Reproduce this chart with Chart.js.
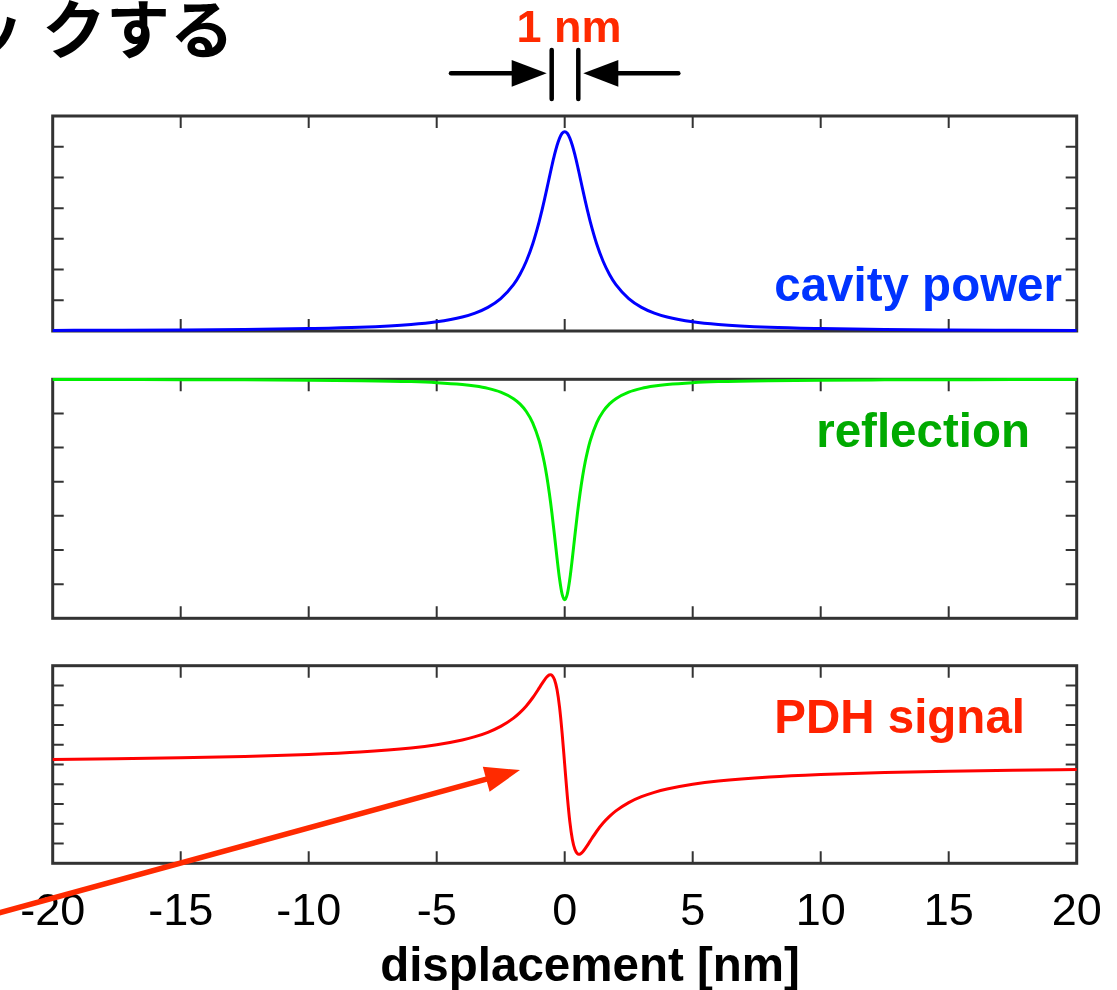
<!DOCTYPE html>
<html><head><meta charset="utf-8">
<script src="https://cdn.jsdelivr.net/npm/chart.js@4.4.1/dist/chart.umd.min.js"></script>
<style>
html,body{margin:0;padding:0;background:#fff;}
#page{position:relative;width:1117px;height:990px;overflow:hidden;background:#fff;}
#page canvas{position:absolute;left:0;}
#overlay{position:absolute;left:0;top:0;pointer-events:none;}
</style></head><body>
<div id="page">
<canvas id="cavityChart" width="1117" height="250" style="top:100px"></canvas>
<canvas id="reflectionChart" width="1117" height="280" style="top:360px"></canvas>
<canvas id="pdhChart" width="1117" height="340" style="top:650px"></canvas>
<svg id="overlay" width="1117" height="990" viewBox="0 0 1117 990">
  <text y="53" font-family="Noto Sans CJK JP" font-weight="bold" font-size="64" fill="#000"><tspan x="-40">ッ</tspan><tspan x="42">クする</tspan></text>
  <text x="569" y="42" text-anchor="middle" font-family="Liberation Sans, Arial, sans-serif" font-weight="bold" font-size="45" fill="#ff2a00">1 nm</text>
  <g stroke="#000" stroke-width="4.5" stroke-linecap="round">
    <line x1="451" y1="73.3" x2="515" y2="73.3"/>
    <line x1="551.7" y1="50" x2="551.7" y2="99"/>
    <line x1="578.3" y1="50" x2="578.3" y2="99"/>
    <line x1="615" y1="73.3" x2="678.3" y2="73.3"/>
  </g>
  <polygon points="511.7,60 546.7,73.3 511.7,86.7" fill="#000"/>
  <polygon points="618.3,60 583.3,73.3 618.3,86.7" fill="#000"/>
  <text x="1062" y="301" text-anchor="end" font-family="Liberation Sans, Arial, sans-serif" font-weight="bold" font-size="47.5" fill="#0033ff">cavity power</text>
  <text x="1030" y="447" text-anchor="end" font-family="Liberation Sans, Arial, sans-serif" font-weight="bold" font-size="47.5" fill="#00aa00">reflection</text>
  <text x="1025" y="733" text-anchor="end" font-family="Liberation Sans, Arial, sans-serif" font-weight="bold" font-size="47.5" fill="#ff2200">PDH signal</text>
  <line x1="-2" y1="913.2" x2="490" y2="778.2" stroke="#ff2a00" stroke-width="5.5"/>
  <polygon points="482.8,766.8 520,770 489.6,791.8" fill="#ff2a00"/>
  <text x="590" y="981" text-anchor="middle" font-family="Liberation Sans, Arial, sans-serif" font-weight="bold" font-size="47.5" fill="#000">displacement [nm]</text>
</svg>
</div>
<script>
// ---- data ----
const displacement = [-20,-17.5,-15,-12.5,-10,-8,-6,-5,-4,-3.5,-3,-2.5,-2,-1.75,-1.5,-1.25,-1,-0.9,-0.8,-0.7,-0.6,-0.55,-0.5,-0.4,-0.3,-0.2,-0.1,0,0.1,0.2,0.3,0.4,0.5,0.55,0.6,0.7,0.8,0.9,1,1.25,1.5,1.75,2,2.5,3,3.5,4,5,6,8,10,12.5,15,17.5,20];
const cavityPower = [0.020,0.026,0.035,0.050,0.078,0.120,0.211,0.300,0.456,0.583,0.769,1.053,1.507,1.838,2.270,2.832,3.553,3.888,4.245,4.619,5.002,5.192,5.379,5.732,6.041,6.282,6.437,6.490,6.437,6.282,6.041,5.732,5.379,5.192,5.002,4.619,4.245,3.888,3.553,2.832,2.270,1.838,1.507,1.053,0.769,0.583,0.456,0.300,0.211,0.120,0.078,0.050,0.035,0.026,0.020];
const reflection = [6.994,6.992,6.989,6.984,6.975,6.961,6.932,6.902,6.848,6.803,6.735,6.625,6.433,6.280,6.057,5.725,5.206,4.921,4.576,4.160,3.664,3.385,3.086,2.439,1.766,1.149,0.704,0.540,0.704,1.149,1.766,2.439,3.086,3.385,3.664,4.160,4.576,4.921,5.206,5.725,6.057,6.280,6.433,6.625,6.735,6.803,6.848,6.902,6.932,6.961,6.975,6.984,6.989,6.992,6.994];
const pdhSignal = [5.253,5.289,5.337,5.404,5.504,5.629,5.836,6.000,6.241,6.410,6.631,6.928,7.348,7.626,7.965,8.378,8.863,9.066,9.261,9.428,9.531,9.544,9.518,9.306,8.795,7.891,6.581,5.000,3.419,2.109,1.205,0.694,0.482,0.456,0.469,0.572,0.739,0.934,1.137,1.622,2.035,2.374,2.652,3.072,3.369,3.590,3.759,4.000,4.164,4.371,4.496,4.596,4.663,4.711,4.747];
const xTickValues = [-20,-15,-10,-5,0,5,10,15,20];
const xTickLabels = ['-20','-15','-10','-5','0','5','10','15','20'];
const cavityYTicks = [0,1,2,3,4,5,6,7];
const reflectionYTicks = [0,1,2,3,4,5,6,7];
const pdhYTicks = [0,1,2,3,4,5,6,7,8,9,10];

const framePlugin = {
  id: 'frame',
  beforeDatasetsDraw(chart, args, opts) {
    const {ctx, chartArea: a, scales: {x, y}} = chart;
    ctx.save();
    ctx.strokeStyle = '#333';
    ctx.lineWidth = 2;
    ctx.beginPath();
    xTickValues.forEach(v => {
      if (v <= x.min || v >= x.max) return;
      const px = x.getPixelForValue(v);
      ctx.moveTo(px, a.top); ctx.lineTo(px, a.top + 12);
      ctx.moveTo(px, a.bottom); ctx.lineTo(px, a.bottom - 12);
    });
    (opts.yTicks || []).forEach(v => {
      if (v <= y.min || v >= y.max) return;
      const py = y.getPixelForValue(v);
      ctx.moveTo(a.left, py); ctx.lineTo(a.left + 11, py);
      ctx.moveTo(a.right, py); ctx.lineTo(a.right - 11, py);
    });
    ctx.stroke();
    ctx.lineWidth = 3;
    ctx.strokeRect(a.left, a.top, a.right - a.left, a.bottom - a.top);
    ctx.restore();
  }
};

function makePanel(id, values, color, yTicks, pad, showX) {
  const pts = displacement.map((d, i) => ({x: d, y: values[i]}));
  return new Chart(document.getElementById(id), {
    type: 'line',
    data: {datasets: [{data: pts, borderColor: color, borderWidth: 3, pointRadius: 0, fill: false,
      cubicInterpolationMode: 'monotone', clip: 5}]},
    options: {
      responsive: false, animation: false, devicePixelRatio: 1,
      layout: {padding: pad},
      plugins: {legend: {display: false}, tooltip: {enabled: false}, frame: {yTicks: yTicks}},
      scales: {
        x: {
          type: 'linear', min: -20, max: 20, display: showX,
          grid: {display: false, drawTicks: false}, border: {display: false},
          afterBuildTicks: s => { s.ticks = xTickValues.map(v => ({value: v})); },
          afterFit: s => { if (showX) { s.height = 76; } s.paddingLeft = 0; s.paddingRight = 0; },
          ticks: {
            padding: 22, color: '#000', maxRotation: 0, autoSkip: false,
            font: {family: 'Liberation Sans, Arial, sans-serif', size: 45},
            callback: (v) => { const i = xTickValues.indexOf(v); return i >= 0 ? xTickLabels[i] : ''; }
          }
        },
        y: {
          type: 'linear', min: yTicks[0], max: yTicks[yTicks.length - 1], display: false,
          grid: {display: false}
        }
      }
    },
    plugins: [framePlugin]
  });
}

makePanel('cavityChart', cavityPower, '#0000ff', cavityYTicks, {left: 52.7, right: 40.3, top: 16, bottom: 19}, false);
makePanel('reflectionChart', reflection, '#00ee00', reflectionYTicks, {left: 52.7, right: 40.3, top: 19.3, bottom: 21.7}, false);
makePanel('pdhChart', pdhSignal, '#ff0000', pdhYTicks, {left: 52.7, right: 40.3, top: 15.7, bottom: 50.7}, true);
</script>
</body></html>
